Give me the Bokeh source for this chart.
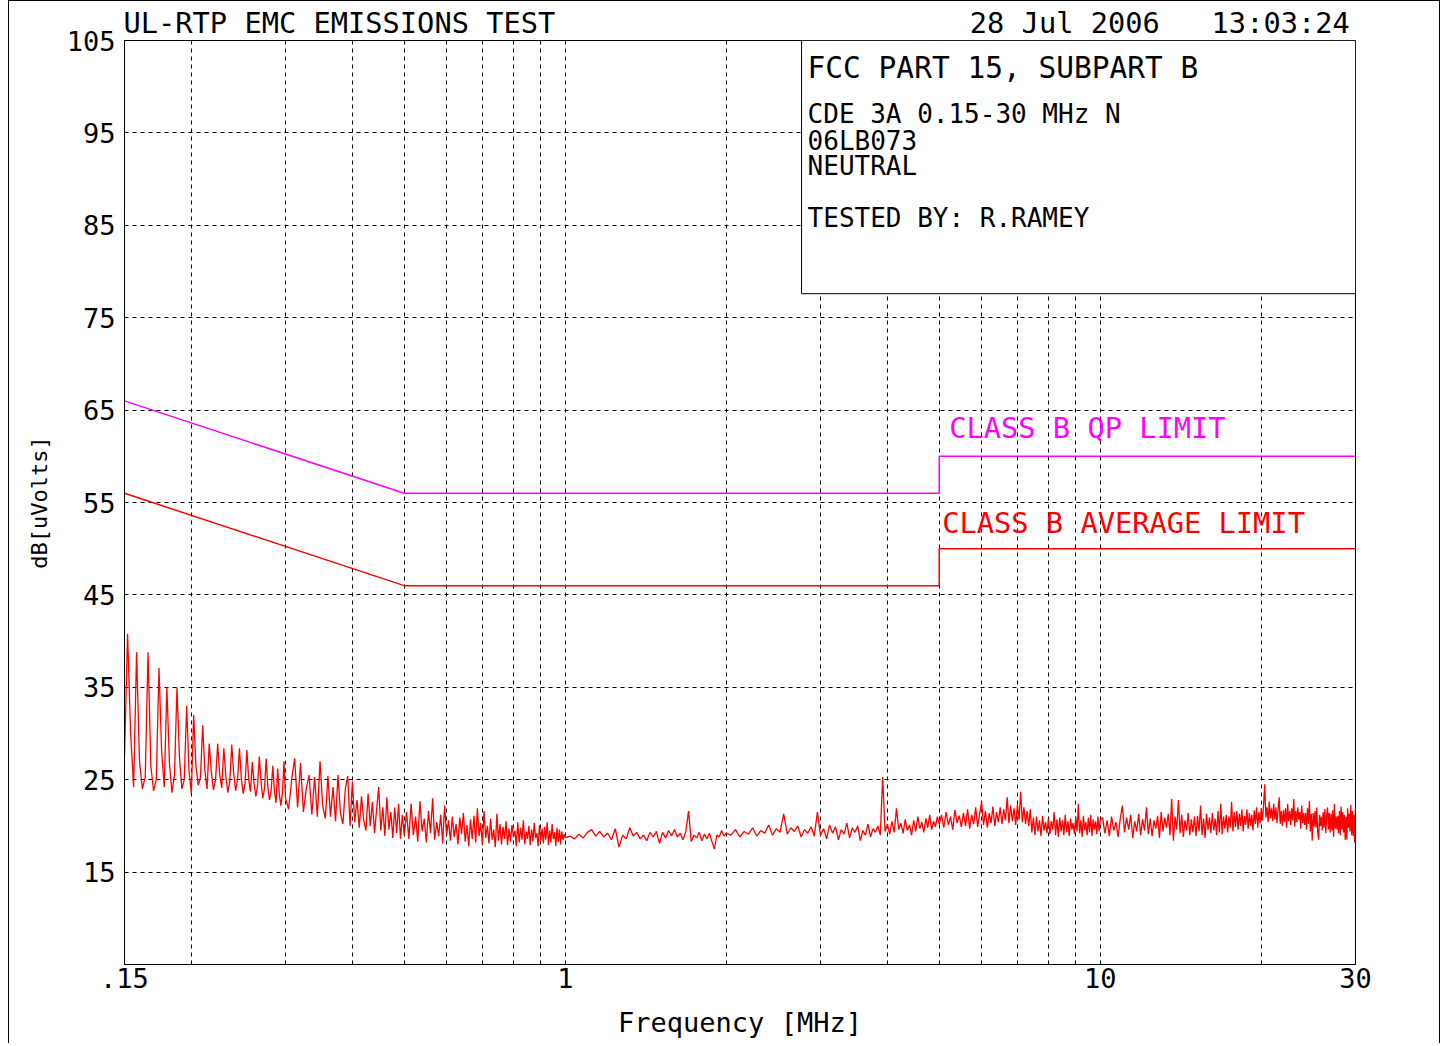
from bokeh.plotting import figure
from bokeh.models import Range1d, FixedTicker, Label, BoxAnnotation, Title
from bokeh.embed import file_html
from bokeh.resources import INLINE

# ---------------- data ----------------
FREQ_A = [0.150, 0.152, 0.154, 0.156, 0.158, 0.160, 0.162, 0.164, 0.166, 0.168,
          0.170, 0.172, 0.174, 0.176, 0.178, 0.180, 0.182, 0.184, 0.186, 0.188,
          0.190, 0.192, 0.194, 0.196, 0.198, 0.200, 0.202, 0.204, 0.206, 0.208,
          0.210, 0.212, 0.214, 0.216, 0.218, 0.220, 0.222, 0.224, 0.226, 0.228,
          0.230, 0.232, 0.234, 0.236, 0.238, 0.240, 0.242, 0.244, 0.246, 0.248,
          0.250, 0.252, 0.254, 0.256, 0.258, 0.260, 0.262, 0.264, 0.266, 0.268,
          0.270, 0.272, 0.274, 0.276, 0.278, 0.280, 0.282, 0.284, 0.286, 0.288,
          0.290, 0.292, 0.294, 0.296, 0.298, 0.300]
DB_A = [27.5, 40.8, 30.0, 24.2, 38.8, 27.0, 24.0, 25.3, 38.8, 26.5,
        23.8, 25.0, 37.1, 28.0, 24.2, 35.0, 26.8, 23.6, 25.5, 35.0,
        27.5, 24.0, 25.0, 33.0, 26.0, 23.5, 32.0, 26.5, 24.4, 25.2,
        30.9, 26.0, 24.0, 28.9, 25.8, 23.9, 25.0, 28.9, 25.5, 24.1,
        28.4, 25.4, 23.6, 24.8, 28.8, 25.7, 23.8, 25.0, 28.4, 25.2,
        23.5, 24.6, 28.2, 25.0, 23.7, 26.9, 24.6, 23.2, 24.4, 27.5,
        24.8, 23.0, 24.0, 27.3, 24.2, 22.8, 23.8, 26.5, 23.8, 22.5,
        26.2, 23.5, 22.2, 23.6, 27.0, 23.0]

FREQ_B = [0.304, 0.308, 0.312, 0.316, 0.320, 0.324, 0.328, 0.332, 0.336, 0.340,
          0.344, 0.348, 0.352, 0.356, 0.360, 0.364, 0.368, 0.372, 0.376, 0.380,
          0.384, 0.388, 0.392, 0.396, 0.400, 0.404, 0.408, 0.412, 0.416, 0.420,
          0.424, 0.428, 0.432, 0.436, 0.440, 0.444, 0.448, 0.452, 0.456, 0.460,
          0.464, 0.468, 0.472, 0.476, 0.480, 0.484, 0.488, 0.492, 0.496, 0.500]
DB_B = [21.8, 25.0, 27.3, 22.0, 26.8, 21.5, 24.0, 25.5, 21.2, 25.3,
        21.0, 27.0, 22.2, 20.8, 25.4, 21.0, 24.2, 20.5, 25.5, 21.4,
        20.2, 24.0, 25.4, 20.0, 24.8, 20.4, 22.8, 19.8, 23.2, 20.6,
        19.5, 23.5, 20.0, 22.6, 19.2, 21.8, 24.2, 19.5, 22.0, 18.9,
        23.1, 19.6, 21.5, 18.7, 22.0, 19.2, 22.4, 18.6, 21.2, 19.0]

FREQ_C = [0.505, 0.510, 0.515, 0.520, 0.525, 0.530, 0.535, 0.540, 0.545, 0.550,
          0.555, 0.560, 0.565, 0.570, 0.575, 0.580, 0.585, 0.590, 0.595, 0.600,
          0.605, 0.610, 0.615, 0.620, 0.625, 0.630, 0.635, 0.640, 0.645, 0.650,
          0.655, 0.660, 0.665, 0.670, 0.675, 0.680, 0.685, 0.690, 0.695, 0.700,
          0.705, 0.710, 0.715, 0.720, 0.725, 0.730, 0.735, 0.740, 0.745, 0.750,
          0.755, 0.760, 0.765, 0.770, 0.775, 0.780, 0.785, 0.790, 0.795, 0.800,
          0.805, 0.810, 0.815, 0.820, 0.825, 0.830, 0.835, 0.840, 0.845, 0.850,
          0.855, 0.860, 0.865, 0.870, 0.875, 0.880, 0.885, 0.890, 0.895, 0.900,
          0.905, 0.910, 0.915, 0.920, 0.925, 0.930, 0.935, 0.940, 0.945, 0.950,
          0.955, 0.960, 0.965, 0.970, 0.975, 0.980, 0.985, 0.990, 0.995, 1.000]
DB_C = [21.5, 18.6, 22.4, 19.0, 21.0, 18.3, 22.7, 19.4, 20.8, 18.2,
        21.6, 19.2, 23.0, 18.5, 20.4, 18.9, 21.2, 18.1, 22.2, 19.0,
        20.6, 18.4, 21.0, 18.8, 20.2, 18.0, 20.9, 19.1, 21.4, 18.3,
        20.1, 17.8, 20.7, 18.6, 21.1, 18.2, 21.9, 18.9, 20.3, 17.9,
        21.6, 18.7, 20.0, 18.1, 20.8, 18.5, 19.6, 17.7, 21.3, 18.4,
        20.2, 18.0, 19.9, 18.6, 20.5, 17.9, 19.7, 18.3, 20.1, 18.8,
        19.5, 17.8, 20.4, 18.2, 19.8, 18.5, 20.6, 18.0, 19.4, 18.6,
        20.0, 17.9, 19.6, 18.3, 20.3, 18.7, 19.2, 17.8, 20.1, 18.4,
        19.7, 18.1, 19.9, 18.5, 20.4, 17.9, 19.5, 18.2, 20.2, 18.6,
        19.3, 17.8, 19.8, 18.3, 19.6, 18.0, 19.4, 18.5, 19.1, 18.7]

FREQ_D = [1.02, 1.04, 1.06, 1.08, 1.10, 1.12, 1.14, 1.16, 1.18, 1.20,
          1.22, 1.24, 1.26, 1.28, 1.30, 1.32, 1.34, 1.36, 1.38, 1.40,
          1.42, 1.44, 1.46, 1.48, 1.50, 1.52, 1.54, 1.56, 1.58, 1.60,
          1.62, 1.64, 1.66, 1.68, 1.70, 1.72, 1.74, 1.76, 1.78, 1.80,
          1.82, 1.84, 1.86, 1.88, 1.90, 1.92, 1.94, 1.96, 1.98, 2.00]
DB_D = [18.9, 18.6, 19.1, 18.7, 19.3, 19.6, 18.9, 19.4, 18.8, 19.2,
        18.5, 19.7, 17.7, 19.0, 18.6, 19.8, 18.9, 19.3, 18.6, 19.0,
        18.4, 19.3, 18.8, 19.4, 18.1, 19.3, 18.7, 19.5, 18.9, 19.6,
        18.8, 19.2, 18.5, 19.4, 21.6, 18.3, 19.0, 18.7, 19.3, 18.4,
        19.1, 18.6, 19.2, 18.3, 17.5, 19.0, 18.8, 19.5, 18.9, 19.2]

FREQ_E = [2.04, 2.08, 2.12, 2.16, 2.20, 2.24, 2.28, 2.32, 2.36, 2.40,
          2.44, 2.48, 2.52, 2.56, 2.60, 2.64, 2.68, 2.72, 2.76, 2.80,
          2.84, 2.88, 2.92, 2.96, 3.00, 3.04, 3.08, 3.12, 3.16, 3.20,
          3.24, 3.28, 3.32, 3.36, 3.40, 3.44, 3.48, 3.52, 3.56, 3.60,
          3.64, 3.68, 3.72, 3.76, 3.80, 3.84, 3.88, 3.92, 3.96, 4.00,
          4.04, 4.08, 4.12, 4.16, 4.20, 4.24, 4.28, 4.32, 4.36, 4.40,
          4.44, 4.48, 4.52, 4.56, 4.60, 4.64, 4.68, 4.72, 4.76, 4.80,
          4.84, 4.88, 4.92, 4.96, 5.00]
DB_E = [19.0, 19.6, 18.8, 19.4, 19.1, 19.8, 18.9, 19.5, 19.2, 20.1,
        19.0, 19.7, 19.3, 21.3, 19.1, 19.8, 19.4, 20.0, 18.8, 19.6,
        19.2, 19.9, 18.9, 21.5, 19.0, 19.7, 18.6, 20.1, 19.2, 19.9,
        18.5, 19.6, 19.1, 20.3, 18.7, 19.8, 19.3, 20.0, 18.4, 19.5,
        19.0, 20.2, 18.8, 19.7, 19.3, 20.0, 19.0, 25.3, 19.4, 20.2,
        19.1, 20.5, 19.3, 21.9, 19.6, 20.3, 19.2, 20.7, 19.5, 20.1,
        19.0, 20.6, 19.4, 21.0, 19.7, 20.4, 19.3, 20.8, 19.8, 21.2,
        19.6, 20.5, 19.9, 21.0, 20.2]

FREQ_F = [5.05, 5.10, 5.15, 5.20, 5.25, 5.30, 5.35, 5.40, 5.45, 5.50,
          5.55, 5.60, 5.65, 5.70, 5.75, 5.80, 5.85, 5.90, 5.95, 6.00,
          6.05, 6.10, 6.15, 6.20, 6.25, 6.30, 6.35, 6.40, 6.45, 6.50,
          6.55, 6.60, 6.65, 6.70, 6.75, 6.80, 6.85, 6.90, 6.95, 7.00,
          7.05, 7.10, 7.15, 7.20, 7.25, 7.30, 7.35, 7.40, 7.45, 7.50,
          7.55, 7.60, 7.65, 7.70, 7.75, 7.80, 7.85, 7.90, 7.95, 8.00,
          8.05, 8.10, 8.15, 8.20, 8.25, 8.30, 8.35, 8.40, 8.45, 8.50,
          8.55, 8.60, 8.65, 8.70, 8.75, 8.80, 8.85, 8.90, 8.95, 9.00,
          9.05, 9.10, 9.15, 9.20, 9.25, 9.30, 9.35, 9.40, 9.45, 9.50,
          9.55, 9.60, 9.65, 9.70, 9.75, 9.80, 9.85, 9.90, 9.95, 10.00]
DB_F = [21.2, 19.8, 21.5, 20.1, 21.0, 19.6, 21.7, 20.3, 21.1, 19.9,
        21.4, 20.0, 21.8, 19.7, 21.2, 20.2, 22.0, 19.9, 21.3, 22.6,
        20.1, 21.6, 19.8, 21.4, 20.3, 22.1, 20.0, 21.5, 20.4, 22.0,
        20.2, 21.8, 20.6, 23.1, 20.3, 22.2, 20.5, 21.9, 20.1, 22.3,
        20.7, 23.7, 20.4, 22.0, 20.2, 21.6, 20.0, 21.8, 19.3, 20.9,
        19.0, 21.0, 19.4, 20.6, 18.9, 21.1, 19.5, 20.4, 19.2, 20.8,
        19.1, 20.5, 19.6, 21.5, 19.0, 20.7, 18.8, 20.9, 19.4, 20.6,
        19.0, 21.2, 19.3, 20.5, 18.9, 20.8, 19.6, 20.3, 19.1, 21.0,
        19.4, 22.4, 19.2, 20.6, 18.8, 21.1, 19.5, 20.4, 19.0, 20.9,
        19.3, 21.2, 18.9, 20.7, 19.6, 20.5, 19.1, 21.0, 19.4, 20.6]

FREQ_G = [10.1, 10.2, 10.3, 10.4, 10.5, 10.6, 10.7, 10.8, 10.9, 11.0,
          11.1, 11.2, 11.3, 11.4, 11.5, 11.6, 11.7, 11.8, 11.9, 12.0,
          12.1, 12.2, 12.3, 12.4, 12.5, 12.6, 12.7, 12.8, 12.9, 13.0,
          13.1, 13.2, 13.3, 13.4, 13.5, 13.6, 13.7, 13.8, 13.9, 14.0,
          14.1, 14.2, 14.3, 14.4, 14.5, 14.6, 14.7, 14.8, 14.9, 15.0,
          15.1, 15.2, 15.3, 15.4, 15.5, 15.6, 15.7, 15.8, 15.9, 16.0,
          16.1, 16.2, 16.3, 16.4, 16.5, 16.6, 16.7, 16.8, 16.9, 17.0,
          17.1, 17.2, 17.3, 17.4, 17.5, 17.6, 17.7, 17.8, 17.9, 18.0,
          18.1, 18.2, 18.3, 18.4, 18.5, 18.6, 18.7, 18.8, 18.9, 19.0,
          19.1, 19.2, 19.3, 19.4, 19.5, 19.6, 19.7, 19.8, 19.9, 20.0]
DB_G = [20.9, 19.2, 20.6, 18.9, 21.0, 19.5, 20.4, 18.8, 20.8, 22.2,
        19.3, 20.9, 19.6, 21.2, 18.7, 20.5, 19.4, 21.3, 19.0, 20.7,
        19.5, 22.0, 19.1, 20.8, 18.9, 20.6, 19.7, 21.1, 18.7, 21.5,
        19.4, 20.9, 19.8, 21.3, 19.0, 22.9, 18.4, 21.0, 19.6, 22.8,
        19.2, 21.2, 18.8, 20.6, 19.5, 21.4, 19.0, 20.7, 19.3, 21.0,
        18.9, 21.1, 19.4, 22.2, 19.0, 20.8, 18.7, 21.3, 19.6, 20.9,
        19.2, 21.4, 19.5, 20.8, 19.0, 21.6, 19.3, 22.4, 19.1, 21.0,
        19.7, 21.2, 19.3, 21.0, 19.8, 22.6, 19.4, 21.5, 19.9, 21.6,
        19.6, 21.3, 20.0, 21.8, 19.4, 21.1, 20.1, 21.8, 19.7, 21.4,
        20.0, 21.2, 19.5, 21.7, 20.2, 22.0, 19.8, 21.5, 20.3, 21.9]

FREQ_H = [20.1, 20.2, 20.3, 20.4, 20.5, 20.6, 20.7, 20.8, 20.9, 21.0,
          21.1, 21.2, 21.3, 21.4, 21.5, 21.6, 21.7, 21.8, 21.9, 22.0,
          22.1, 22.2, 22.3, 22.4, 22.5, 22.6, 22.7, 22.8, 22.9, 23.0,
          23.1, 23.2, 23.3, 23.4, 23.5, 23.6, 23.7, 23.8, 23.9, 24.0,
          24.1, 24.2, 24.3, 24.4, 24.5, 24.6, 24.7, 24.8, 24.9, 25.0,
          25.1, 25.2, 25.3, 25.4, 25.5, 25.6, 25.7, 25.8, 25.9, 26.0,
          26.1, 26.2, 26.3, 26.4, 26.5, 26.6, 26.7, 26.8, 26.9, 27.0,
          27.1, 27.2, 27.3, 27.4, 27.5, 27.6, 27.7, 27.8, 27.9, 28.0,
          28.1, 28.2, 28.3, 28.4, 28.5, 28.6, 28.7, 28.8, 28.9, 29.0,
          29.1, 29.2, 29.3, 29.4, 29.5, 29.6, 29.7, 29.8, 29.9, 30.0]
DB_H = [20.6, 22.3, 24.5, 20.9, 22.0, 20.4, 22.6, 20.8, 21.9, 20.5,
        22.4, 20.7, 22.0, 20.3, 21.8, 23.1, 20.2, 21.6, 20.0, 21.7,
        20.4, 21.9, 19.8, 22.4, 20.5, 21.6, 20.1, 21.9, 20.6, 22.9,
        19.9, 21.6, 20.4, 22.0, 20.7, 21.5, 19.7, 22.2, 20.3, 21.4,
        20.1, 21.4, 19.6, 21.9, 20.2, 22.7, 19.4, 21.3, 18.4, 21.4,
        19.9, 21.6, 19.8, 22.0, 19.3, 18.5, 21.2, 20.0, 21.0, 19.5,
        21.5, 19.8, 21.8, 19.2, 21.2, 22.0, 19.6, 21.4, 19.3, 21.3,
        19.5, 21.7, 18.8, 22.4, 19.7, 21.0, 19.6, 21.1, 19.2, 21.6,
        19.0, 22.1, 19.6, 21.5, 19.3, 21.2, 18.5, 21.0, 18.5, 21.9,
        19.8, 21.3, 19.4, 22.3, 19.0, 21.6, 18.9, 21.2, 18.2, 22.0]

# FCC Part 15 class B conducted limits
QP_FREQ = [0.15, 0.5, 5, 5, 30]
QP_DB = [66, 56, 56, 60, 60]
AVG_FREQ = [0.15, 0.5, 5, 5, 30]
AVG_DB = [56, 46, 46, 50, 50]

X_TICKS = [0.15, 1, 10, 30]
X_TICK_LABELS = [".15", "1", "10", "30"]
X_GRID = [0.2, 0.3, 0.4, 0.5, 0.6, 0.7, 0.8, 0.9, 1, 2, 3, 4, 5, 6, 7, 8, 9, 10, 20]
Y_TICKS = [15, 25, 35, 45, 55, 65, 75, 85, 95, 105]
Y_GRID = [15, 25, 35, 45, 55, 65, 75, 85, 95]

HEADER_LEFT = "UL-RTP EMC EMISSIONS TEST"
HEADER_DATE = "28 Jul 2006"
HEADER_TIME = "13:03:24"
INFO_LINES = ["CDE 3A 0.15-30 MHz N", "06LB073", "NEUTRAL"]

BOX_LEFT_MHZ = 2.765
BOX_BOTTOM_DB = 77.6

FONT = "DejaVu Sans Mono"
NBSP = "\u00a0"

# ---------------- assemble trace ----------------
freq, db = [], []
for fl, dl in [(FREQ_A, DB_A), (FREQ_B, DB_B), (FREQ_C, DB_C), (FREQ_D, DB_D),
               (FREQ_E, DB_E), (FREQ_F, DB_F), (FREQ_G, DB_G), (FREQ_H, DB_H)]:
    for f, d in zip(fl, dl):
        freq.append(f)
        db.append(d)

# ---------------- figure ----------------
p = figure(width=1432, height=1043, x_axis_type="log",
           x_range=Range1d(0.15, 30), y_range=Range1d(5, 105),
           output_backend="svg", toolbar_location=None, title=None,
           min_border_left=115, min_border_right=86,
           min_border_top=39, min_border_bottom=80,
           background_fill_color="white", border_fill_color="white",
           outline_line_color="black", outline_line_width=1)
p.styles = {"margin-left": "8px", "margin-top": "0px",
            "border-left": "1px solid black", "border-right": "1px solid black",
            "border-top": "1px solid black"}

header = HEADER_LEFT + NBSP * 24 + HEADER_DATE + NBSP * 3 + HEADER_TIME
p.add_layout(Title(text=header, align="left", text_font=FONT,
                   text_font_size="28.7px", text_font_style="normal",
                   text_color="black", standoff=2, offset=-1), "above")

p.xaxis.ticker = FixedTicker(ticks=X_TICKS)
p.xaxis.major_label_overrides = dict(zip(X_TICKS, X_TICK_LABELS))
p.yaxis.ticker = FixedTicker(ticks=Y_TICKS)
for ax in (p.xaxis[0], p.yaxis[0]):
    ax.major_tick_in = 0
    ax.major_tick_out = 0
    ax.minor_tick_in = 0
    ax.minor_tick_out = 0
    ax.major_tick_line_color = None
    ax.minor_tick_line_color = None
    ax.axis_line_color = "black"
    ax.major_label_text_font = FONT
    ax.major_label_text_font_size = "27px"
    ax.major_label_text_color = "black"
    ax.axis_label_text_font = FONT
    ax.axis_label_text_font_style = "normal"
    ax.axis_label_text_color = "black"
p.xaxis.major_label_standoff = 3
p.yaxis.major_label_standoff = 9
p.xaxis.axis_label = "Frequency [MHz]"
p.xaxis.axis_label_text_font_size = "27px"
p.xaxis.axis_label_standoff = 16
p.yaxis.axis_label = "dB[uVolts]"
p.yaxis.axis_label_text_font_size = "22px"
p.yaxis.axis_label_standoff = 12

p.xgrid.ticker = FixedTicker(ticks=X_GRID)
p.ygrid.ticker = FixedTicker(ticks=Y_GRID)
for g in (p.xgrid[0], p.ygrid[0]):
    g.grid_line_color = "black"
    g.grid_line_dash = "4 4"
    g.grid_line_width = 1
    g.grid_line_alpha = 1.0

# limit lines and measured trace
p.line(QP_FREQ, QP_DB, line_color="#FF00FF", line_width=1.5)
p.line(AVG_FREQ, AVG_DB, line_color="#FF0000", line_width=1.5)
p.line(freq, db, line_color="#FF0000", line_width=1.3)

# info box
box = BoxAnnotation(left=BOX_LEFT_MHZ, right=30, bottom=BOX_BOTTOM_DB, top=105,
                    fill_color="white", fill_alpha=1.0,
                    line_color="black", line_width=1, line_alpha=1.0)
p.add_layout(box)


def lab(x, y, text, xo=0, yo=0, size="26px", color="black"):
    p.add_layout(Label(x=x, y=y, x_offset=xo, y_offset=yo, text=text,
                       text_font=FONT, text_font_size=size, text_color=color,
                       text_align="left", text_baseline="middle"))


# box text (anchored to the box's top-left corner)
lab(BOX_LEFT_MHZ, 105, "FCC PART 15, SUBPART B", xo=6, yo=-27, size="29.5px")
lab(BOX_LEFT_MHZ, 105, INFO_LINES[0], xo=6, yo=-73)
lab(BOX_LEFT_MHZ, 105, INFO_LINES[1], xo=6, yo=-100)
lab(BOX_LEFT_MHZ, 105, INFO_LINES[2], xo=6, yo=-125)
lab(BOX_LEFT_MHZ, 105, "TESTED BY: R.RAMEY", xo=6, yo=-177)

# limit labels
lab(5, 60, "CLASS B QP LIMIT", xo=10, yo=28, size="28.7px", color="#FF00FF")
lab(5, 50, "CLASS B AVERAGE LIMIT", xo=3, yo=26, size="28.7px", color="#FF0000")

open("out.html", "w").write(file_html(p, INLINE))
